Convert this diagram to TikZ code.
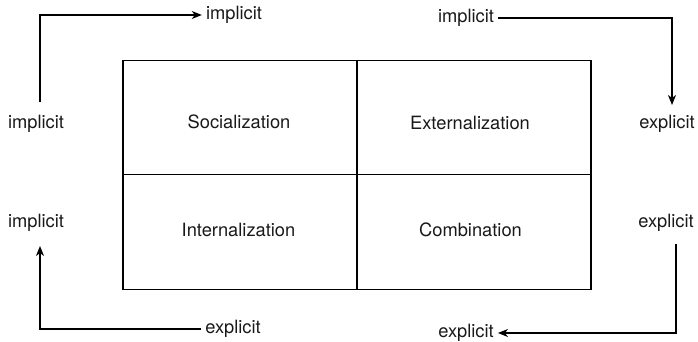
\documentclass[tikz,border=0pt]{standalone}
\usepackage{fontspec}
\setmainfont{TeX Gyre Heros}
\usetikzlibrary{arrows.meta}
\begin{document}
\begin{tikzpicture}[x=1pt,y=-1pt,
  cell/.style={draw,line width=1.1pt,minimum width=234pt,minimum height=114.5pt,inner sep=0pt},
  txt/.style={inner sep=2pt,text=black!90,font=\fontsize{18.3}{22}\selectfont},
  lbl/.style={inner sep=4pt,text=black!90,font=\fontsize{18.3}{22}\selectfont},
  arr/.style={line width=1.1pt,-{Stealth[length=10pt,width=8pt,inset=3pt]}},
  ln/.style={line width=1.1pt}]
\useasboundingbox (0,0) rectangle (698,342);
% grid
\node[cell] (soc) at (240,117.5) {};
\node[cell] (ext) at (474,117.5) {};
\node[cell] (int) at (240,232) {};
\node[cell] (com) at (474,232) {};
\node[txt] (socT) at (239,121.5) {Socialization};
\node[txt] (extT) at (470,122.5) {Externalization};
\node[txt] (intT) at (238.5,230) {Internalization};
\node[txt] (comT) at (470.5,229.5) {Combination};
% labels
\node[lbl] (t1) at (234,15) {implicit};
\node[lbl] (l1) at (36,124) {implicit};
\node[lbl] (t2) at (466,18) {implicit};
\node[lbl] (r1) at (667,124) {explicit};
\node[lbl] (l2) at (36,223) {implicit};
\node[lbl] (b1) at (233,329) {explicit};
\node[lbl] (r2) at (666,223) {explicit};
\node[lbl] (b2) at (466,333) {explicit};
% connector ends
\coordinate (a1) at (40,102);
\coordinate (a2) at (672,105);
\coordinate (a3) at (40,246);
\coordinate (a4) at (676,244);
% connectors
\draw[arr] (a1) |- (t1.west);
\draw[arr] (t2.east) -| (a2);
\draw[arr] (b1.west) -| (a3);
\draw[arr] (a4) |- (b2.east);
\end{tikzpicture}
\end{document}
